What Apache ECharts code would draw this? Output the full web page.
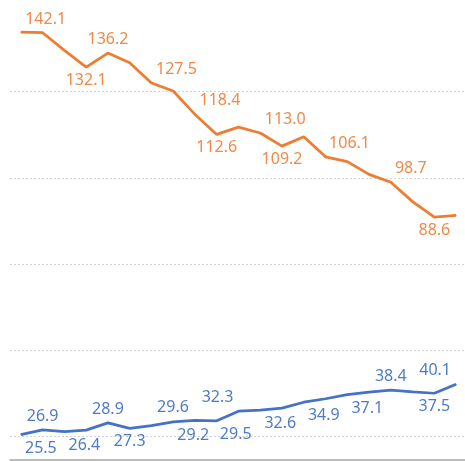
<!DOCTYPE html>
<html>
<head>
<meta charset="utf-8">
<script src="https://cdn.jsdelivr.net/npm/echarts@6/dist/echarts.min.js"></script>
<style>
  html, body { margin: 0; padding: 0; background: #fff; }
  #chart { width: 465px; height: 461px; }
</style>
</head>
<body>
<div id="chart"></div>
<script>
var categories = ['1', '2', '3', '4', '5', '6', '7', '8', '9', '10', '11',
  '12', '13', '14', '15', '16', '17', '18', '19', '20', '21'];

var orangeValues = [142.3, 142.1, 137.0, 132.1, 136.2, 133.4, 127.5, 125.2, 118.4, 112.6, 114.7,
  113.0, 109.2, 111.9, 106.1, 104.7, 101.0, 98.7, 93.1, 88.6, 89.1];

var blueValues = [25.5, 26.9, 26.4, 26.8, 28.9, 27.3, 28.1, 29.2, 29.6, 29.5, 32.3,
  32.6, 33.2, 34.9, 35.9, 37.1, 37.8, 38.4, 37.9, 37.5, 40.1];

var yTicks = [0, 25, 50, 75, 100, 125, 150];

// which points carry a label, where it sits and how far it is nudged sideways
var orangeLabelAt = { 1: 'top', 3: 'bottom', 4: 'top', 6: 'top', 8: 'top', 9: 'bottom',
  11: 'top', 12: 'bottom', 14: 'top', 17: 'top', 19: 'bottom' };
var orangeLabelShift = { 1: 3, 6: 25, 8: 25, 11: 25, 14: 24, 17: 20 };

var blueLabelAt = { 0: 'bottom', 1: 'top', 2: 'bottom', 4: 'top', 5: 'bottom', 7: 'bottom',
  8: 'top', 9: 'bottom', 10: 'top', 11: 'bottom', 13: 'bottom', 15: 'bottom', 17: 'top',
  19: 'bottom', 20: 'top' };
var blueLabelShift = { 0: 20, 2: 20, 7: 20, 8: -22, 9: 19, 10: -21, 11: 20, 13: 20, 15: 20, 20: -21 };

function withLabels(values, at, shift) {
  return values.map(function (v, i) {
    if (!at[i]) {
      return { value: v, label: { show: false } };
    }
    return {
      value: v,
      label: {
        show: true,
        position: at[i],
        offset: [shift[i] || 0, 0]
      }
    };
  });
}

var myChart = echarts.init(document.getElementById('chart'), null, {
  renderer: 'canvas',
  useDirtyRect: false
});

var option = {
  animation: false,
  grid: {
    left: 10,
    top: 5.5,
    width: 457,
    height: 517,
    outerBoundsMode: 'none'
  },
  xAxis: {
    type: 'category',
    data: categories,
    boundaryGap: true,
    offset: -62.5,
    axisLine: {
      show: true,
      onZero: false,
      lineStyle: { color: '#a6a6a6', width: 1.5 }
    },
    axisTick: { show: false },
    axisLabel: { show: false },
    splitLine: { show: false }
  },
  yAxis: {
    type: 'value',
    min: yTicks[0],
    max: yTicks[yTicks.length - 1],
    interval: 25,
    axisLine: { show: false },
    axisTick: { show: false },
    axisLabel: { show: false },
    splitLine: {
      show: true,
      showMaxLine: false,
      lineStyle: { color: '#d4d4d4', type: [2, 2], width: 1 }
    }
  },
  series: [
    {
      name: 'orange',
      type: 'line',
      data: withLabels(orangeValues, orangeLabelAt, orangeLabelShift),
      symbol: 'circle',
      symbolSize: 1,
      showSymbol: true,
      lineStyle: { color: '#ED7D31', width: 2.75 },
      itemStyle: { color: '#ED7D31' },
      label: {
        fontFamily: 'Noto Sans',
        fontSize: 16,
        color: '#EF8A48',
        distance: 5,
        formatter: function (p) { return p.value.toFixed(1); }
      }
    },
    {
      name: 'blue',
      type: 'line',
      data: withLabels(blueValues, blueLabelAt, blueLabelShift),
      symbol: 'circle',
      symbolSize: 1,
      showSymbol: true,
      lineStyle: { color: '#4472C4', width: 2.75 },
      itemStyle: { color: '#4472C4' },
      label: {
        fontFamily: 'Noto Sans',
        fontSize: 16,
        color: '#4E7BC9',
        distance: 5,
        formatter: function (p) { return p.value.toFixed(1); }
      }
    }
  ]
};

if (option && typeof option === 'object') {
  myChart.setOption(option);
}

window.addEventListener('resize', myChart.resize);
</script>
</body>
</html>
